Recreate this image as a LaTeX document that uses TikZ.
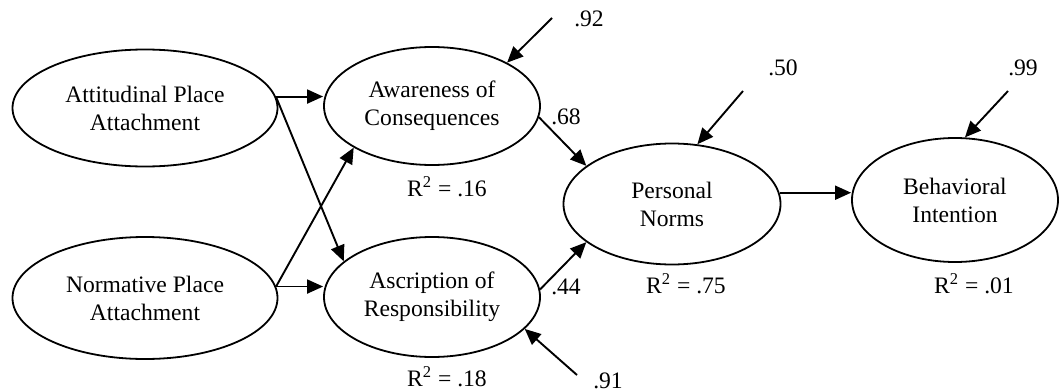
\documentclass[tikz,border=0pt]{standalone}
\usepackage{fontspec}
\setmainfont{Liberation Serif}
\usetikzlibrary{arrows.meta,shapes.geometric}
\begin{document}
\begin{tikzpicture}[x=0.5pt,y=-0.5pt,
  lat/.style={draw,ellipse,line width=0.9pt,inner sep=0pt,align=center,font=\fontsize{11.8}{14}\selectfont},
  conn/.style={line width=0.95pt,-{Triangle[length=8pt,width=7pt]}},
  lbl/.style={inner sep=0pt,font=\fontsize{11.8}{14}\selectfont}]
\useasboundingbox (0,0) rectangle (1060,391);

\node[lat,minimum width=132.5pt,minimum height=58.5pt] (apa) at (145,108) {Attitudinal Place\\Attachment};
\node[lat,minimum width=132.5pt,minimum height=61pt] (npa) at (145,298) {Normative Place\\Attachment};
\node[lat,minimum width=108pt,minimum height=59pt] (aoc) at (432,106) {Awareness of\\Consequences};
\node[lat,minimum width=108pt,minimum height=60pt] (aor) at (432,297) {Ascription of\\Responsibility};
\node[lat,minimum width=108.5pt,minimum height=60.5pt] (pn) at (672,204) {Personal\\Norms};
\node[lat,minimum width=103pt,minimum height=62pt] (bi) at (955,200) {Behavioral\\Intention};

\draw[conn] (apa.5) -- (apa.5 -| aoc.west);
\draw[conn] (apa.5) -- (aor.158);
\draw[conn] (npa.5) -- (aoc.208);
\draw[conn] (npa.5) -- (npa.5 -| aor.west);
\draw[conn] (aoc.354) -- (pn.156);
\draw[conn] (aor.4) -- (pn.204);
\draw[conn] (pn.6) -- (pn.6 -| bi.west);

\coordinate (e1) at (552,18);
\coordinate (e2) at (743,91);
\coordinate (e3) at (1008,91);
\coordinate (e4) at (577,375);
\draw[conn] (e1) -- (aoc.30);
\draw[conn] (e2) -- (pn.67);
\draw[conn] (e3) -- (bi.81);
\draw[conn] (e4) -- (aor.-19);

\node[lbl] (l92) at (589,19) {.92};
\node[lbl] (l50) at (783,68) {.50};
\node[lbl] (l99) at (1023,68) {.99};
\node[lbl] (l91) at (608,381) {.91};
\node[lbl] (l68) at (566,117) {.68};
\node[lbl] (l44) at (566,287) {.44};

\node[lbl] (r16) at (447,187) {R\textsuperscript{2} = .16};
\node[lbl] (r18) at (447,377) {R\textsuperscript{2} = .18};
\node[lbl] (r75) at (686,284) {R\textsuperscript{2} = .75};
\node[lbl] (r01) at (974,284) {R\textsuperscript{2} = .01};
\end{tikzpicture}
\end{document}
